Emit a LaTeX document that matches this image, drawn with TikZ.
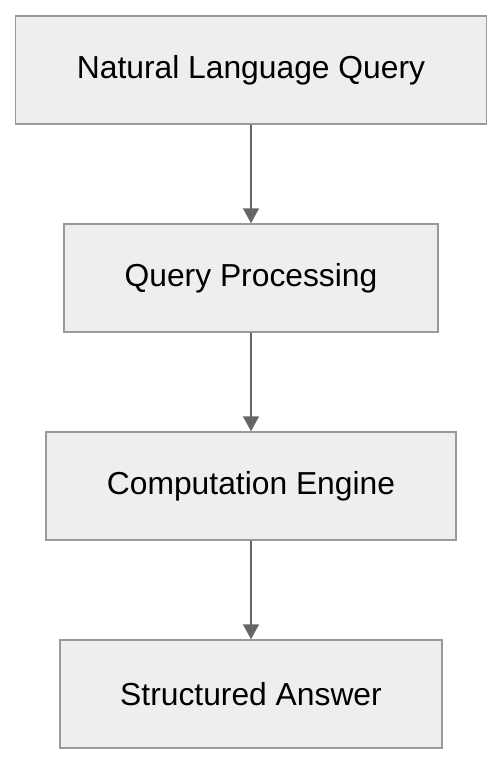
\documentclass[tikz,border=0pt]{standalone}
\usepackage{fontspec}
\setmainfont{Liberation Sans}
\usetikzlibrary{positioning,arrows.meta}
\definecolor{boxfill}{HTML}{EEEEEE}
\definecolor{boxline}{HTML}{999999}
\definecolor{arrowline}{HTML}{666666}

\begin{document}
\begin{tikzpicture}[
stagebox/.style={draw=boxline,fill=boxfill,line width=1.5pt,rectangle,minimum height=108pt,
    font=\fontsize{31.8pt}{38pt}\selectfont,inner sep=0pt},
flow/.style={draw=arrowline,line width=1.5pt,-{Triangle[width=16pt,length=15pt]}},
node distance=98.5pt]
\useasboundingbox (0,0) rectangle (502pt,-764pt);
\node (nlq) [stagebox,minimum width=471pt] at (251pt,-70pt) {Natural Language Query};
\node (qproc) [stagebox,minimum width=374pt,below=of nlq] {Query Processing};
\node (compeng) [stagebox,minimum width=410pt,below=of qproc] {Computation Engine};
\node (answer) [stagebox,minimum width=382pt,below=of compeng] {Structured Answer};
% arrows between the stages
\draw [flow] (nlq) -- (qproc);
\draw [flow] (qproc) -- (compeng);
\draw [flow] (compeng) -- (answer);
\end{tikzpicture}
\end{document}
